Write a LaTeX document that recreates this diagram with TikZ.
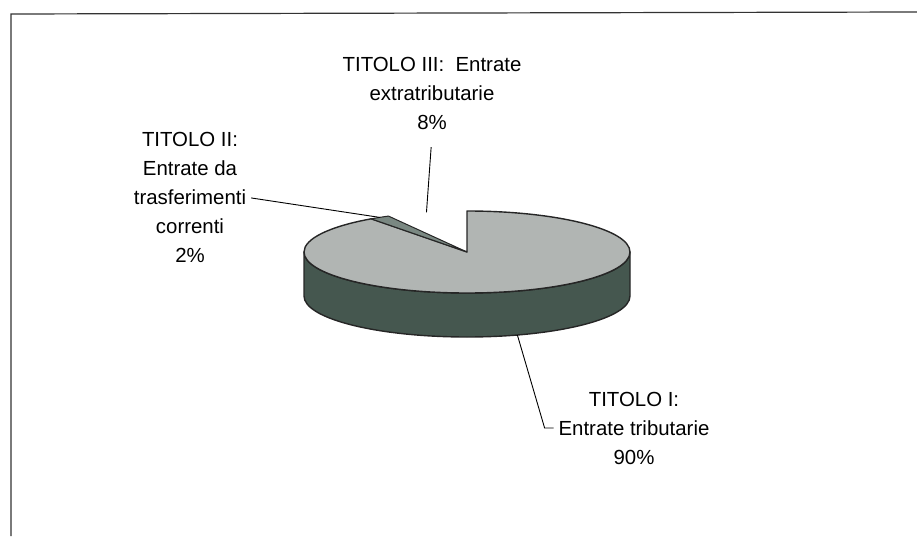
\documentclass[tikz,border=0pt]{standalone}
\usepackage{fontspec}
\setmainfont{Liberation Sans}
\usepackage[]{xcolor}
\definecolor{pietop}{HTML}{B1B5B3}
\definecolor{pieside}{HTML}{45574F}
\definecolor{piesmall}{HTML}{7A8882}

\begin{document}
\begin{tikzpicture}[x=1pt,y=1pt,
  slicetext/.style={align=center, inner sep=0pt, outer sep=5pt, font=\fontsize{20.4}{29}\selectfont},
  leader/.style={line width=0.9pt},
  rim/.style={draw=black!85, line width=1.4pt, line join=round},
  pie/.style={x radius=163, y radius=41}]
\newcommand{\dep}{44}
\useasboundingbox (0,0) rectangle (917,536);

% Frame (only left and top show)
\draw[line width=1.2pt, black!80] (11,0) -- (11,522) -- (917,524);

\coordinate (c) at (467,284);
% Side of the pie
\filldraw[rim, fill=pieside] ([xshift=-163pt]c) arc[pie, start angle=180, end angle=360]
  -- ++(0,-\dep) arc[pie, start angle=0, end angle=-180] -- cycle;
% Top: slice I (90%)
\filldraw[rim, fill=pietop] (c) -- ++(90:163 and 41) arc[pie, start angle=90, end angle=-234] -- cycle;
% Top: slice II (2%)
\filldraw[rim, line width=1pt, fill=piesmall] (c) -- ++(126:163 and 41) arc[pie, start angle=126, end angle=118.8] -- cycle;

% Mid points of the slices
\path (c) ++(-72:163 and 41) ++(0,-\dep) coordinate (m1);
\path (c) ++(122.4:163 and 41) coordinate (m2);
\path (c) ++(104.4:163 and 41) coordinate (m3);

% Labels (base = last line)
\node[slicetext, anchor=base] (lab3) at (432,406) {TITOLO III:\ \ Entrate\\extratributarie\\8\%};
\node[slicetext, anchor=base] (lab2) at (190,273) {TITOLO II:\\Entrate da\\trasferimenti\\correnti\\2\%};
\node[slicetext, anchor=base] (lab1) at (634,72) {TITOLO I:\\Entrate tributarie\\90\%};

% Leader lines
\draw[leader, shorten <=12pt] (lab3.south) -- (m3);
\draw[leader] (lab2.east) -- (m2);
\draw[leader] (m1) -- ([xshift=-9pt]lab1.west) -- (lab1.west);

\end{tikzpicture}
\end{document}
